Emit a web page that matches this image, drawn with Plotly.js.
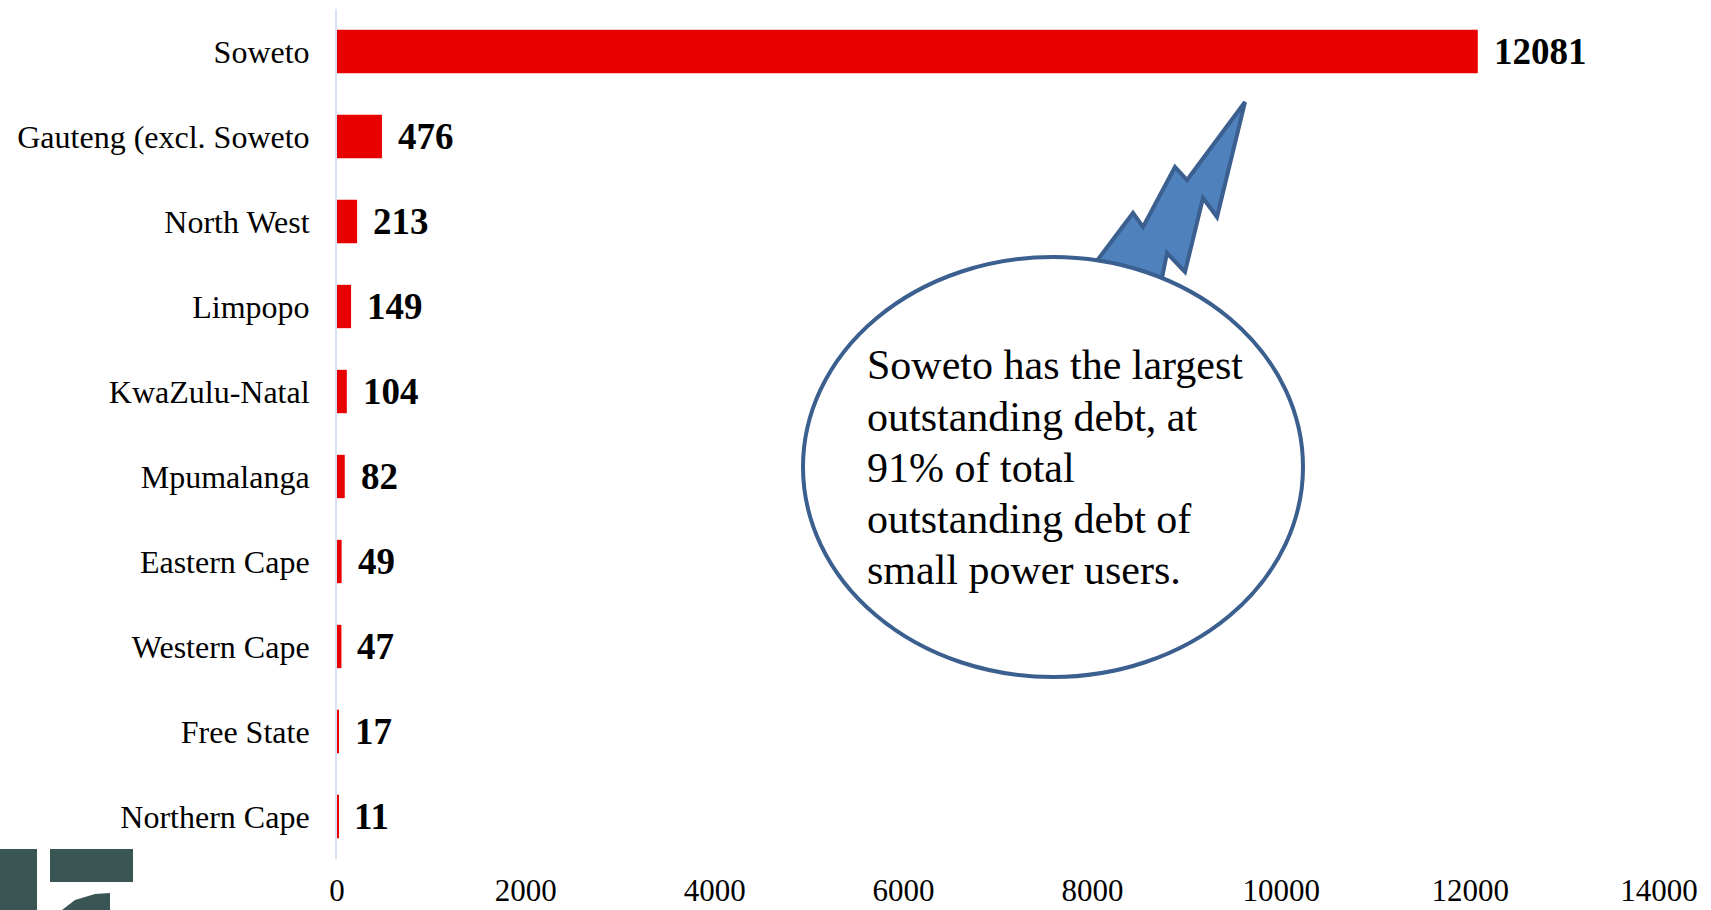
<!DOCTYPE html>
<html>
<head>
<meta charset="utf-8">
<script src="https://cdn.plot.ly/plotly-3.0.1.min.js"></script>
<style>html,body{margin:0;padding:0;background:#fff;}#chart{width:1711px;height:910px;}</style>
</head>
<body>
<div id="chart"></div>
<script>
// Data
var regions = ["Soweto", "Gauteng (excl. Soweto", "North West", "Limpopo", "KwaZulu-Natal",
               "Mpumalanga", "Eastern Cape", "Western Cape", "Free State", "Northern Cape"];
var debt = [12081, 476, 213, 149, 104, 82, 49, 47, 17, 11];
var xTicks = [0, 2000, 4000, 6000, 8000, 10000, 12000, 14000];
var calloutLines = ["Soweto has the largest", "outstanding debt, at", "91% of total",
                    "outstanding debt of", "small power users."];

var W = 1711, H = 910;
var M = {l: 337, r: 52, t: 9, b: 51};
var PW = W - M.l - M.r, PH = H - M.t - M.b;
function px(x) { return (x - M.l) / PW; }
function py(y) { return (H - M.b - y) / PH; }
function pathFrom(pts) {
  return pts.map(function (p, i) { return (i ? 'L' : 'M') + px(p[0]).toFixed(5) + ',' + py(p[1]).toFixed(5); }).join(' ') + ' Z';
}

var serif = "'Liberation Serif', 'Times New Roman', Times, serif";

var trace = {
  type: 'bar',
  orientation: 'h',
  y: regions,
  x: debt,
  marker: {color: '#e80000', line: {width: 0}},
  hoverinfo: 'x+y'
};

var valueAnns = regions.map(function (r, i) {
  return {
    x: debt[i], y: r, xref: 'x', yref: 'y',
    text: String(debt[i]), showarrow: false,
    xanchor: 'left', yanchor: 'middle', xshift: 14,
    font: {family: serif, size: 37, color: '#000', weight: 'bold'}
  };
});

var lineCenters = [365, 417, 468, 519, 570];
var calloutAnns = calloutLines.map(function (t, i) {
  return {
    xref: 'paper', yref: 'paper', x: px(865), y: py(lineCenters[i]),
    xanchor: 'left', yanchor: 'middle', align: 'left',
    text: t, showarrow: false,
    font: {family: serif, size: 42, color: '#000'}
  };
});

var tail = [[1093, 266], [1133, 213], [1143, 227], [1175, 167], [1187, 180], [1245, 102],
            [1217, 217], [1203, 198], [1185, 272], [1167, 253], [1160, 288]];

var layout = {
  width: W, height: H,
  margin: M,
  paper_bgcolor: '#fff', plot_bgcolor: '#fff',
  showlegend: false,
  bargap: 0.49,
  font: {family: serif, color: '#000'},
  xaxis: {
    range: [0, 14000], tickvals: xTicks, ticktext: xTicks.map(String),
    showgrid: false, zeroline: false, showline: false, ticks: '',
    tickfont: {family: serif, size: 31, color: '#000'},
    ticklabelstandoff: 10
  },
  yaxis: {
    type: 'category', autorange: 'reversed',
    showgrid: false, zeroline: false, showline: true,
    linecolor: '#d7e2f2', linewidth: 2, ticks: '',
    tickfont: {family: serif, size: 32, color: '#000'},
    ticklabelstandoff: 19
  },
  shapes: [
    // speech bubble tail
    {type: 'path', xref: 'paper', yref: 'paper', path: pathFrom(tail),
     fillcolor: '#4f81bd', line: {color: '#3b5f8e', width: 4}, layer: 'above'},
    // speech bubble ellipse
    {type: 'circle', xref: 'paper', yref: 'paper',
     x0: px(803), x1: px(1303), y0: py(677), y1: py(257),
     fillcolor: '#ffffff', line: {color: '#3b5f8e', width: 4}, layer: 'above'},
    // logo pieces (bottom-left)
    {type: 'rect', xref: 'paper', yref: 'paper', x0: px(0), x1: px(37), y0: py(910), y1: py(849),
     fillcolor: '#3a5654', line: {width: 0}, layer: 'above'},
    {type: 'rect', xref: 'paper', yref: 'paper', x0: px(50), x1: px(133), y0: py(882), y1: py(849),
     fillcolor: '#3a5654', line: {width: 0}, layer: 'above'},
    {type: 'path', xref: 'paper', yref: 'paper',
     path: pathFrom([[62, 910], [75, 900], [95, 894], [110, 893], [110, 910]]),
     fillcolor: '#3a5654', line: {width: 0}, layer: 'above'}
  ],
  annotations: valueAnns.concat(calloutAnns)
};

Plotly.newPlot('chart', [trace], layout, {displayModeBar: false, responsive: false});
</script>
</body>
</html>
